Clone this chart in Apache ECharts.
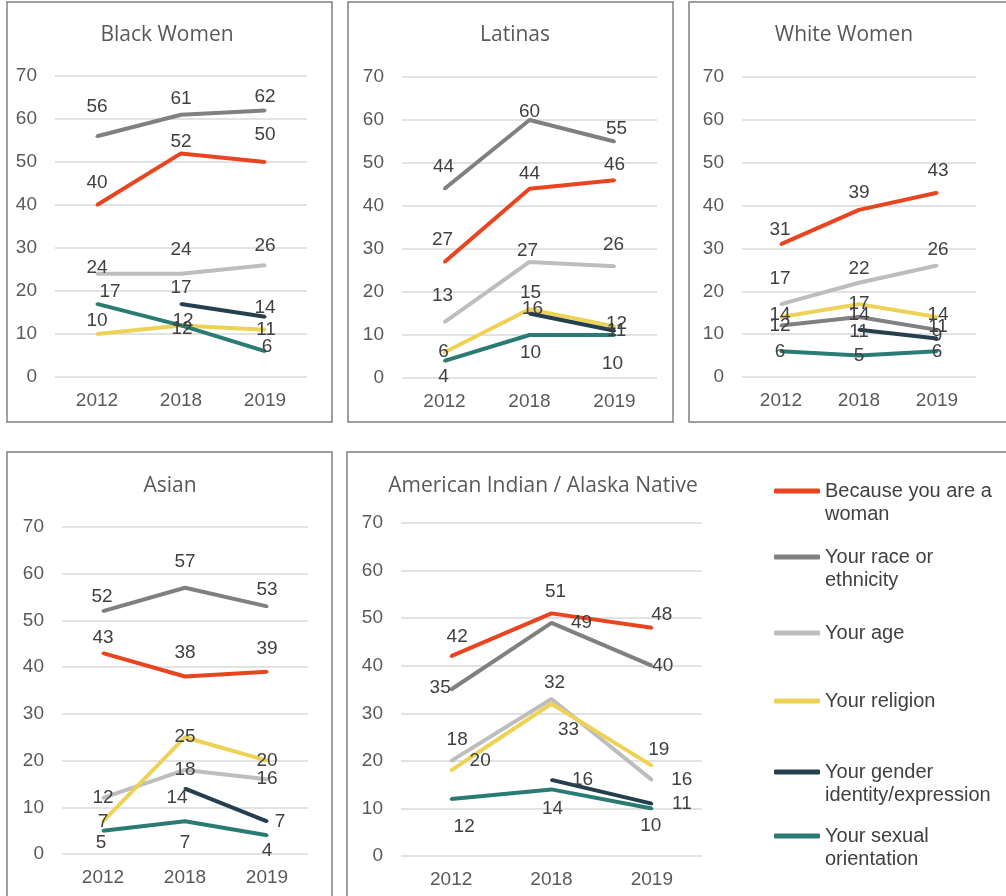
<!DOCTYPE html>
<html lang="en">
<head>
<meta charset="UTF-8">
<title>Discrimination experienced</title>
<script src="https://cdn.jsdelivr.net/npm/echarts@6/dist/echarts.min.js"></script>
<style>
html,body{margin:0;padding:0;background:#fff}
#chartBox{width:1006px;height:896px}
</style>
</head>
<body>
<div id="chartBox"></div>
<script>
// categories and series
const years = ['2012', '2018', '2019'];
const seriesNames = ['Because you are a woman', 'Your race or ethnicity', 'Your age',
    'Your religion', 'Your gender identity/expression', 'Your sexual orientation'];
const legendText = ['Because you are a\nwoman', 'Your race or\nethnicity', 'Your age',
    'Your religion', 'Your gender\nidentity/expression', 'Your sexual\norientation'];
const colors = ['#e8441f', '#808080', '#bdbdbd', '#edd255', '#253f4f', '#2a7b73'];

// values per panel, order: woman, race, age, religion, gender identity, sexual orientation
const blackWomen = [[40, 52, 50], [56, 61, 62], [24, 24, 26], [10, 12, 11], [null, 17, 14], [17, 12, 6]];
const latinas    = [[27, 44, 46], [44, 60, 55], [13, 27, 26], [6, 16, 12], [null, 15, 11], [4, 10, 10]];
const whiteWomen = [[31, 39, 43], [12, 14, 11], [17, 22, 26], [14, 17, 14], [null, 11, 9], [6, 5, 6]];
const asian      = [[43, 38, 39], [52, 57, 53], [12, 18, 16], [7, 25, 20], [null, 14, 7], [5, 7, 4]];
const aian       = [[42, 51, 48], [35, 49, 40], [20, 33, 16], [18, 32, 19], [null, 16, 11], [12, 14, 10]];

// label offsets (px) from each point, same order as the data
const offBlack = [[[0,-22],[0,-12],[0,-27]], [[0,-29],[0,-16],[0,-14]], [[0,-6],[0,-24],[0,-19]],
    [[0,-13],[2,-5],[1,0]], [null,[0,-16],[0,-9]], [[13,-12],[1,3],[2,-4]]];
const offLatinas = [[[-2,-22],[0,-15],[0,-15]], [[-1,-22],[0,-8],[2,-13]], [[-2,-26],[-2,-11],[-1,-21]],
    [[-1,0],[3,0],[2,-3]], [null,[1,-21],[2,0]], [[-1,16],[1,18],[-2,29]]];
const offWhite = [[[-1,-14],[0,-17],[1,-22]], [[-1,0],[0,-2],[1,-3]], [[-1,-25],[0,-14],[1,-16]],
    [[-1,-2],[0,0],[1,-2]], [null,[0,2],[0,-3]], [[-1,0],[0,0],[0,0]]];
const offAsian = [[[0,-15],[0,-24],[0,-23]], [[-1,-14],[0,-26],[0,-17]], [[0,0],[0,0],[0,0]],
    [[0,0],[0,0],[0,0]], [null,[-8,9],[13,0]], [[-2,12],[0,21],[0,15]]];
const offAian = [[[6,-19],[4,-22],[10,-13]], [[-11,-2],[30,0],[11,0]], [[29,0],[17,31],[30,0]],
    [[6,-31],[3,-21],[7,-16]], [null,[31,0],[30,0]], [[13,28],[1,19],[-1,17]]];

const panels = [
    {title: 'Black Women', data: blackWomen, off: offBlack, grid: {left: 55, top: 76, width: 252, height: 301}, tx: 167, ty: 25},
    {title: 'Latinas', data: latinas, off: offLatinas, grid: {left: 402, top: 77, width: 255, height: 301}, tx: 515, ty: 25},
    {title: 'White Women', data: whiteWomen, off: offWhite, grid: {left: 742, top: 77, width: 234, height: 300}, tx: 844, ty: 25},
    {title: 'Asian', data: asian, off: offAsian, grid: {left: 62, top: 527, width: 246, height: 327}, tx: 170, ty: 476},
    {title: 'American Indian / Alaska Native', data: aian, off: offAian, grid: {left: 401, top: 523, width: 301, height: 333}, tx: 543, ty: 476}
];
const boxes = [[7, 2, 325, 420], [348, 2, 325, 420], [689, 2, 330, 420], [7, 452, 325, 460], [347, 452, 670, 460]];
const legendY = [491, 557, 633, 701, 772, 836];

const numFont = '"Liberation Sans", Arial, sans-serif';

function buildOption() {
    let option = {
        animation: false,
        backgroundColor: '#fff',
        title: [], grid: [], xAxis: [], yAxis: [], series: [], legend: [],
        graphic: boxes.map(b => ({
            type: 'rect', shape: {x: b[0], y: b[1], width: b[2], height: b[3]},
            style: {fill: 'none', stroke: '#7f7f7f', lineWidth: 1.5}, silent: true
        }))
    };
    panels.forEach((p, i) => {
        option.title.push({
            text: p.title, left: p.tx, top: p.ty, textAlign: 'center', padding: 0,
            textStyle: {fontSize: 21, fontWeight: 'normal', color: '#595959', fontFamily: '"Open Sans", sans-serif'}
        });
        option.grid.push(p.grid);
        option.xAxis.push({
            type: 'category', gridIndex: i, data: years,
            axisLine: {show: false}, axisTick: {show: false},
            axisLabel: {fontSize: 19, color: '#595959', fontFamily: numFont, margin: 14}
        });
        option.yAxis.push({
            type: 'value', gridIndex: i, min: 0, max: 70, interval: 10,
            axisLine: {show: false}, axisTick: {show: false},
            axisLabel: {fontSize: 19, color: '#595959', fontFamily: numFont, margin: 18},
            splitLine: {lineStyle: {color: '#d9d9d9', width: 1.5}}
        });
        p.data.forEach((vals, k) => {
            option.series.push({
                type: 'line', name: seriesNames[k], xAxisIndex: i, yAxisIndex: i,
                color: colors[k],
                symbol: 'circle', symbolSize: 3,
                lineStyle: {width: 4, color: colors[k]},
                itemStyle: {color: colors[k]},
                emphasis: {disabled: true},
                label: {show: true, position: 'inside', fontSize: 19, color: '#404040', fontFamily: numFont},
                data: vals.map((v, j) => v === null ? '-' : {value: v, label: {offset: p.off[k][j] || [0, -18]}})
            });
        });
    });
    seriesNames.forEach((name, k) => {
        let twoLine = legendText[k].indexOf('\n') >= 0;
        option.legend.push({
            left: 774, top: legendY[k] - (twoLine ? 34.5 : 11.5), padding: 0,
            selectedMode: false, icon: 'roundRect', itemWidth: 46, itemHeight: 5,
            data: [name],
            // a blank first line keeps the icon level with the first text line
            formatter: () => twoLine ? ' \n' + legendText[k] : legendText[k],
            textStyle: {fontSize: 20, lineHeight: 23, color: '#404040', fontFamily: numFont}
        });
    });
    return option;
}

let chartObj = echarts.init(document.getElementById('chartBox'));
chartObj.setOption(buildOption());
</script>
</body>
</html>
